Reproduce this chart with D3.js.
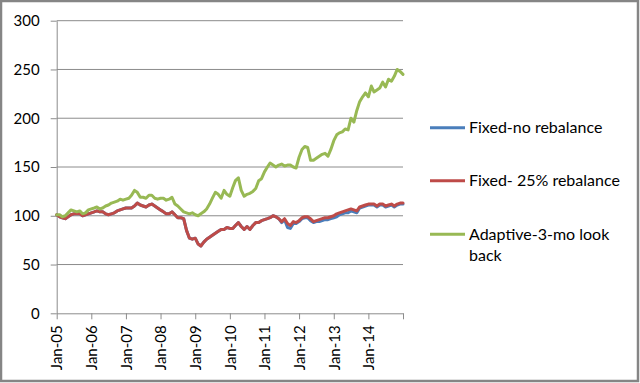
<!DOCTYPE html>
<html>
<head>
<meta charset="utf-8">
<script src="https://cdn.jsdelivr.net/npm/d3@7"></script>
<style>
  body { margin: 0; background: #fff; }
  text { font-family: Lato, "Open Sans", sans-serif; fill: #000; }
</style>
</head>
<body>
<div id="chart"></div>
<script>
// ---------- DATA ----------
// monthly index values, Jan-05 .. Jan-15
const START = new Date(2005, 0, 1);

const SERIES_NAMES = ["Fixed-no rebalance", "Fixed- 25% rebalance", "Adaptive-3-mo look back"];
const SERIES_COLORS = ["#4a7ebb", "#be4b48", "#98b954"];

const fixedNoReb = [
  101, 99, 98, 97, 99, 101, 102, 102, 102, 100, 101, 102,
  103, 104, 105, 104, 104, 102, 101, 102, 103, 105, 106, 107,
  108, 108, 108, 110, 113, 111, 110, 109, 111, 112, 110, 108,
  106, 104, 102, 102, 104, 101, 98, 98, 97, 85, 77, 76,
  77, 71, 69, 73, 76, 78, 80, 82, 84, 86, 86, 88,
  87, 87, 90, 93, 89, 86, 89, 86, 90, 93, 93, 95,
  96, 97, 98, 100, 99, 97, 93, 96, 88, 87, 92, 92,
  94, 97, 98, 98, 95, 93, 94, 94, 95, 96, 96, 97,
  98, 99, 101, 102, 103, 103, 105, 104, 103, 108, 109, 110,
  111, 111, 111, 109, 111, 111, 109, 110, 111, 109, 111, 112,
  112
];

const fixed25Reb = [
  101, 99, 98, 97, 99, 101, 102, 102, 102, 100, 101, 102,
  103, 104, 105, 104, 104, 102, 101, 102, 103, 105, 106, 107,
  108, 108, 108, 110, 113, 111, 110, 109, 111, 112, 110, 108,
  106, 104, 102, 102, 104, 101, 98, 98, 97, 85, 77, 76,
  77, 71, 69, 73, 76, 78, 80, 82, 84, 86, 86, 88,
  87, 87, 90, 93, 89, 86, 89, 86, 90, 93, 93, 95,
  96, 97, 98, 100, 99, 97, 94, 97, 92, 90, 94, 93,
  95, 98, 99, 99, 97, 94, 95, 96, 97, 98, 98, 99,
  100, 102, 103, 104, 105, 106, 107, 106, 105, 109, 110, 111,
  112, 112, 112, 110, 112, 112, 110, 111, 112, 110, 112, 113,
  113
];

const adaptive3mo = [
  101, 101, 99, 100, 103, 106, 105, 104, 105, 102, 103, 106,
  107, 108, 109, 107, 108, 110, 111, 113, 114, 115, 117, 116,
  117, 118, 121, 126, 124, 119, 119, 118, 121, 121, 118, 117,
  118, 118, 116, 117, 119, 112, 110, 107, 104, 103, 102, 103,
  101, 100, 102, 104, 107, 112, 118, 124, 122, 118, 126, 122,
  120, 129, 136, 139, 126, 120, 122, 123, 125, 128, 136, 138,
  145, 150, 154, 152, 150, 152, 153, 151, 152, 152, 150, 149,
  160, 168, 171, 170, 157, 157, 159, 161, 163, 164, 161, 168,
  177, 183, 185, 186, 189, 188, 200, 196, 208, 217, 222, 226,
  222, 233, 227, 229, 231, 237, 232, 240, 238, 243, 250, 248,
  245
];

const Y_TICKS = [0, 50, 100, 150, 200, 250, 300];
const X_TICK_YEARS = [2005, 2006, 2007, 2008, 2009, 2010, 2011, 2012, 2013, 2014, 2015];

// ---------- SCAFFOLD ----------
const width = 640, height = 383;
const plot = { left: 56.7, right: 403, top: 20.7, bottom: 313.3 };

const svg = d3.select("#chart").append("svg")
  .attr("width", width)
  .attr("height", height);

// chart-area border
svg.append("rect")
  .attr("x", 1).attr("y", 1)
  .attr("width", width - 3).attr("height", height - 3)
  .attr("fill", "#fff")
  .attr("stroke", "#858585")
  .attr("stroke-width", 2.5);

const month = i => d3.timeMonth.offset(START, i);

const x = d3.scaleTime()
  .domain([START, new Date(2015, 0, 1)])
  .range([plot.left, plot.right]);

const y = d3.scaleLinear()
  .domain([0, 300])
  .range([plot.bottom, plot.top]);

// gridlines
svg.append("g")
  .selectAll("line")
  .data(Y_TICKS.filter(d => d > 0))
  .join("line")
  .attr("x1", plot.left).attr("x2", plot.right)
  .attr("y1", d => y(d)).attr("y2", d => y(d))
  .attr("stroke", "#8c8c8c")
  .attr("stroke-width", 1);

// y axis
const yAxis = svg.append("g")
  .attr("transform", `translate(${plot.left},0)`)
  .call(d3.axisLeft(y).tickValues(Y_TICKS).tickSize(6).tickPadding(11).tickSizeOuter(0));
yAxis.select(".domain").attr("stroke", "#8c8c8c");
yAxis.selectAll(".tick line").attr("stroke", "#8c8c8c");
yAxis.selectAll("text").style("font-size", "15px").attr("fill", "#000");

// x axis
const xAxis = svg.append("g")
  .attr("transform", `translate(0,${plot.bottom})`)
  .call(d3.axisBottom(x)
    .tickValues(X_TICK_YEARS.map(yr => new Date(yr, 0, 1)))
    .tickFormat(d => d.getFullYear() === 2015 ? "" : d3.timeFormat("%b-%y")(d))
    .tickSize(6).tickSizeOuter(0));
xAxis.select(".domain").attr("stroke", "#8c8c8c");
xAxis.selectAll(".tick line").attr("stroke", "#8c8c8c");
xAxis.selectAll("text")
  .style("font-size", "15px")
  .attr("fill", "#000")
  .attr("text-anchor", "end")
  .attr("transform", "rotate(-90)")
  .attr("x", -12)
  .attr("y", 0)
  .attr("dy", "0.35em");

// ---------- LINES ----------
const allSeries = [fixedNoReb, fixed25Reb, adaptive3mo];

const line = d3.line()
  .x((d, i) => x(month(i)))
  .y(d => y(d));

svg.append("g")
  .selectAll("path")
  .data(allSeries)
  .join("path")
  .attr("d", d => line(d))
  .attr("fill", "none")
  .attr("stroke", (d, i) => SERIES_COLORS[i])
  .attr("stroke-width", 3)
  .attr("stroke-linejoin", "round")
  .attr("stroke-linecap", "round");

// ---------- LEGEND ----------
const legendY = [127.7, 180.7, 234.3];
const legend = svg.append("g");

SERIES_NAMES.forEach((name, i) => {
  legend.append("line")
    .attr("x1", 430).attr("x2", 465)
    .attr("y1", legendY[i]).attr("y2", legendY[i])
    .attr("stroke", SERIES_COLORS[i])
    .attr("stroke-width", 3);
  // wrap the last name onto two lines like the original
  const lines = i === 2 ? ["Adaptive-3-mo look", "back"] : [name];
  const t = legend.append("text")
    .attr("x", 469)
    .attr("y", legendY[i])
    .style("font-size", "16px");
  lines.forEach((s, k) => {
    t.append("tspan")
      .attr("x", 469)
      .attr("dy", k === 0 ? "0.35em" : "1.3em")
      .text(s);
  });
});
</script>
</body>
</html>
